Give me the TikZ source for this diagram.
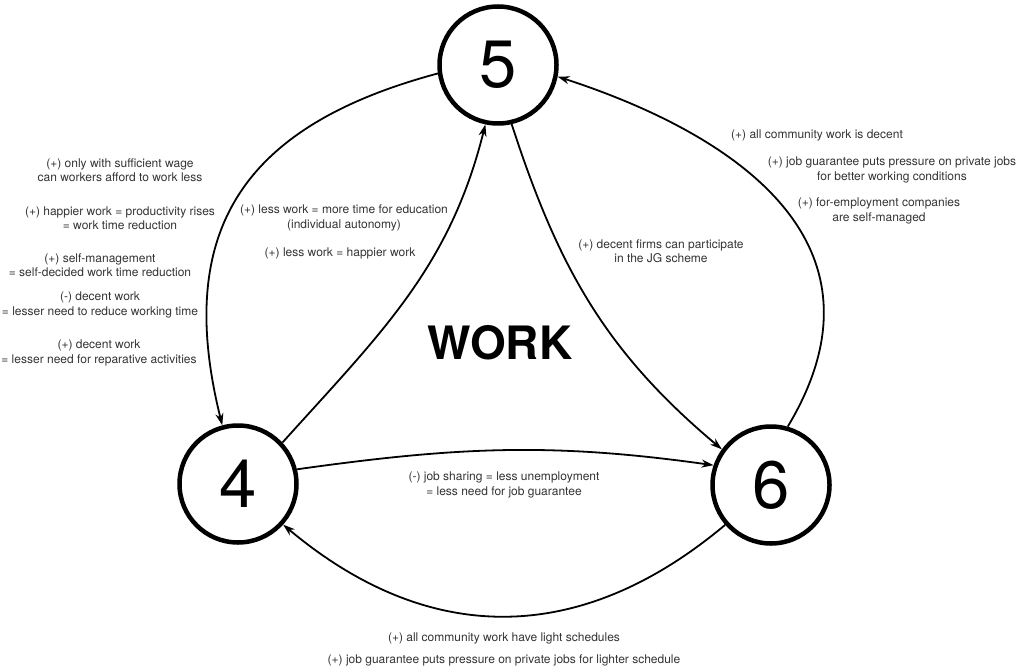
\documentclass[tikz,border=0pt]{standalone}
\usepackage{fontspec}
\setmainfont{TeX Gyre Heros}
\usetikzlibrary{arrows.meta}
\definecolor{notegray}{gray}{0.2}

\begin{document}
\begin{tikzpicture}[x=1pt,y=-1pt,
   stage/.style={draw,circle,line width=4.5pt,minimum size=117pt,inner sep=0pt,
      font=\fontsize{67}{67}\selectfont},
   link/.style={-{Stealth[length=12pt,width=8pt]},line width=1.8pt},
   note/.style={align=center,text=notegray,font=\fontsize{12}{14.5}\selectfont}]
\useasboundingbox (0,0) rectangle (1016,671);

% the three stages
\node[stage] (five) at (498,65) {5};
\node[stage] (four) at (238,484) {4};
\node[stage] (six) at (771,485) {6};
\node[font=\fontsize{46}{46}\selectfont\bfseries] (work) at (500,343) {WORK};

% links between stages
\draw[link] (five.188) to[out=195,in=104,looseness=1.25] (four.105);
\draw[link] (four.43) to[out=48,in=256] (five.258);
\draw[link] (five.283) to[out=-72,in=140] (six.144);
\draw[link] (six.74) to[out=59,in=342,out distance=245,in distance=126] (five.349);
\draw[link] (four.14) to[out=8,in=172] (six.161);
\draw[link] (six.221) to[out=220,in=320,looseness=1.1] (four.318);

% notes 5 -> 4
\node[note] (wage) at (120,170) {(+) only with sufficient wage\\can workers afford to work less};
\node[note] (happier) at (120,218) {(+) happier work = productivity rises\\= work time reduction};
\node[note] (selfmgmt) at (100,265) {(+) self-management\\= self-decided work time reduction};
\node[note] (decentneg) at (100,305) {(-) decent work\\= lesser need to reduce working time};
\node[note] (decentpos) at (99,353) {(+) decent work\\= lesser need for reparative activities};

% notes 4 -> 5
\node[note] (education) at (344,218) {(+) less work = more time for education\\(individual autonomy)};
\node[note] (lesswork) at (340,253) {(+) less work = happier work};

% notes 5 -> 6
\node[note] (firms) at (661,251) {(+) decent firms can participate\\in the JG scheme};

% notes 6 -> 5
\node[note] (decent) at (817,135) {(+) all community work is decent};
\node[note] (pressure) at (892,170) {(+) job guarantee puts pressure on private jobs\\for better working conditions};
\node[note] (companies) at (879,211) {(+) for-employment companies\\are self-managed};

% notes 4 -> 6
\node[note] (sharing) at (504,485) {(-) job sharing = less unemployment\\= less need for job guarantee};

% notes 6 -> 4
\node[note] (light) at (504,638) {(+) all community work have light schedules};
\node[note] (lighter) at (504,660) {(+) job guarantee puts pressure on private jobs for lighter schedule};
\end{tikzpicture}
\end{document}
